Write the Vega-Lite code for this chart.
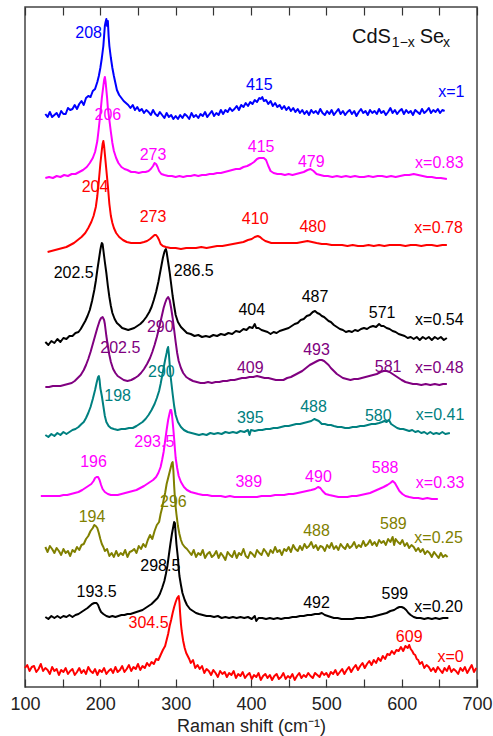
{
"$schema": "https://vega.github.io/schema/vega-lite/v6.json",
"width": 452, "height": 680,
"autosize": {"type": "none"},
"padding": {"left": 25, "top": 7, "right": 16, "bottom": 49},
"background": "white",
"config": {"view": {"stroke": "#444", "strokeWidth": 1.5}, "font": "Liberation Sans"},
"datasets": {
"spec": [
{"s":"a","x":127,"y":572},{"s":"a","x":130,"y":569},{"s":"a","x":133,"y":574},{"s":"a","x":136,"y":569},{"s":"a","x":139,"y":571},{"s":"a","x":142,"y":573},{"s":"a","x":145,"y":569},{"s":"a","x":148,"y":575},{"s":"a","x":151,"y":572},{"s":"a","x":154,"y":572},{"s":"a","x":157,"y":578},{"s":"a","x":160,"y":576},{"s":"a","x":163,"y":577},{"s":"a","x":166,"y":581},{"s":"a","x":169,"y":577},{"s":"a","x":172,"y":582},{"s":"a","x":175,"y":585},{"s":"a","x":178,"y":581},{"s":"a","x":181,"y":588},{"s":"a","x":184,"y":590},{"s":"a","x":187,"y":589},{"s":"a","x":190,"y":595},{"s":"a","x":193,"y":597},{"s":"a","x":196,"y":604},{"s":"a","x":198,"y":610},{"s":"a","x":200,"y":618},{"s":"a","x":202,"y":628},{"s":"a","x":204,"y":640},{"s":"a","x":205,"y":650},{"s":"a","x":206,"y":660},{"s":"a","x":207,"y":664},{"s":"a","x":208,"y":667},{"s":"a","x":209,"y":660},{"s":"a","x":210,"y":665},{"s":"a","x":211,"y":650},{"s":"a","x":212,"y":640},{"s":"a","x":214,"y":628},{"s":"a","x":216,"y":618},{"s":"a","x":218,"y":610},{"s":"a","x":220,"y":603},{"s":"a","x":222,"y":596},{"s":"a","x":225,"y":591},{"s":"a","x":228,"y":588},{"s":"a","x":231,"y":585},{"s":"a","x":234,"y":583},{"s":"a","x":237,"y":581},{"s":"a","x":240,"y":578},{"s":"a","x":243,"y":581},{"s":"a","x":246,"y":576},{"s":"a","x":249,"y":579},{"s":"a","x":252,"y":575},{"s":"a","x":255,"y":577},{"s":"a","x":258,"y":573},{"s":"a","x":261,"y":576},{"s":"a","x":264,"y":574},{"s":"a","x":267,"y":571},{"s":"a","x":270,"y":576},{"s":"a","x":273,"y":572},{"s":"a","x":276,"y":570},{"s":"a","x":279,"y":574},{"s":"a","x":282,"y":571},{"s":"a","x":285,"y":568},{"s":"a","x":288,"y":573},{"s":"a","x":291,"y":569},{"s":"a","x":294,"y":571},{"s":"a","x":297,"y":567},{"s":"a","x":300,"y":570},{"s":"a","x":303,"y":567},{"s":"a","x":306,"y":571},{"s":"a","x":309,"y":568},{"s":"a","x":312,"y":572},{"s":"a","x":315,"y":570},{"s":"a","x":318,"y":567},{"s":"a","x":321,"y":573},{"s":"a","x":324,"y":569},{"s":"a","x":327,"y":571},{"s":"a","x":330,"y":568},{"s":"a","x":333,"y":572},{"s":"a","x":336,"y":570},{"s":"a","x":339,"y":574},{"s":"a","x":342,"y":569},{"s":"a","x":345,"y":572},{"s":"a","x":348,"y":575},{"s":"a","x":351,"y":570},{"s":"a","x":354,"y":573},{"s":"a","x":357,"y":571},{"s":"a","x":360,"y":576},{"s":"a","x":363,"y":572},{"s":"a","x":366,"y":576},{"s":"a","x":369,"y":574},{"s":"a","x":372,"y":578},{"s":"a","x":375,"y":575},{"s":"a","x":378,"y":577},{"s":"a","x":381,"y":580},{"s":"a","x":384,"y":576},{"s":"a","x":387,"y":581},{"s":"a","x":390,"y":579},{"s":"a","x":393,"y":583},{"s":"a","x":396,"y":580},{"s":"a","x":399,"y":584},{"s":"a","x":402,"y":582},{"s":"a","x":405,"y":586},{"s":"a","x":408,"y":584},{"s":"a","x":411,"y":588},{"s":"a","x":413,"y":587},{"s":"a","x":415,"y":589},{"s":"a","x":417,"y":585},{"s":"a","x":420,"y":586},{"s":"a","x":423,"y":582},{"s":"a","x":426,"y":585},{"s":"a","x":429,"y":580},{"s":"a","x":432,"y":583},{"s":"a","x":435,"y":579},{"s":"a","x":438,"y":581},{"s":"a","x":441,"y":577},{"s":"a","x":444,"y":580},{"s":"a","x":447,"y":576},{"s":"a","x":450,"y":579},{"s":"a","x":453,"y":575},{"s":"a","x":456,"y":578},{"s":"a","x":459,"y":574},{"s":"a","x":462,"y":577},{"s":"a","x":465,"y":573},{"s":"a","x":468,"y":576},{"s":"a","x":471,"y":572},{"s":"a","x":474,"y":575},{"s":"a","x":477,"y":571},{"s":"a","x":480,"y":576},{"s":"a","x":483,"y":573},{"s":"a","x":486,"y":575},{"s":"a","x":489,"y":572},{"s":"a","x":492,"y":577},{"s":"a","x":495,"y":573},{"s":"a","x":498,"y":571},{"s":"a","x":501,"y":575},{"s":"a","x":504,"y":572},{"s":"a","x":507,"y":576},{"s":"a","x":510,"y":571},{"s":"a","x":513,"y":574},{"s":"a","x":516,"y":577},{"s":"a","x":519,"y":572},{"s":"a","x":522,"y":575},{"s":"a","x":525,"y":571},{"s":"a","x":528,"y":574},{"s":"a","x":531,"y":576},{"s":"a","x":534,"y":572},{"s":"a","x":537,"y":575},{"s":"a","x":540,"y":570},{"s":"a","x":543,"y":574},{"s":"a","x":546,"y":577},{"s":"a","x":549,"y":573},{"s":"a","x":552,"y":575},{"s":"a","x":555,"y":571},{"s":"a","x":558,"y":576},{"s":"a","x":561,"y":573},{"s":"a","x":564,"y":575},{"s":"a","x":567,"y":572},{"s":"a","x":570,"y":577},{"s":"a","x":573,"y":573},{"s":"a","x":576,"y":575},{"s":"a","x":579,"y":571},{"s":"a","x":582,"y":574},{"s":"a","x":585,"y":578},{"s":"a","x":588,"y":573},{"s":"a","x":591,"y":576},{"s":"a","x":594,"y":572},{"s":"a","x":597,"y":575},{"s":"a","x":600,"y":577},{"s":"a","x":603,"y":572},{"s":"a","x":606,"y":576},{"s":"a","x":609,"y":573},{"s":"a","x":612,"y":575},{"s":"a","x":615,"y":571},{"s":"a","x":618,"y":576},{"s":"a","x":621,"y":574},{"s":"a","x":624,"y":572},{"s":"a","x":627,"y":577},{"s":"a","x":630,"y":573},{"s":"a","x":633,"y":575},{"s":"a","x":636,"y":578},{"s":"a","x":639,"y":573},{"s":"a","x":642,"y":576},{"s":"a","x":645,"y":574},{"s":"a","x":648,"y":577},{"s":"a","x":651,"y":573},{"s":"a","x":654,"y":576},{"s":"a","x":657,"y":575},
{"s":"b","x":127,"y":508},{"s":"b","x":132,"y":509},{"s":"b","x":137,"y":508},{"s":"b","x":142,"y":510},{"s":"b","x":147,"y":509},{"s":"b","x":152,"y":511},{"s":"b","x":157,"y":510},{"s":"b","x":162,"y":512},{"s":"b","x":167,"y":512},{"s":"b","x":172,"y":514},{"s":"b","x":177,"y":516},{"s":"b","x":182,"y":519},{"s":"b","x":186,"y":523},{"s":"b","x":190,"y":528},{"s":"b","x":193,"y":534},{"s":"b","x":196,"y":545},{"s":"b","x":198,"y":558},{"s":"b","x":200,"y":572},{"s":"b","x":202,"y":588},{"s":"b","x":204,"y":600},{"s":"b","x":205,"y":606},{"s":"b","x":206,"y":609},{"s":"b","x":207,"y":604},{"s":"b","x":208,"y":596},{"s":"b","x":209,"y":588},{"s":"b","x":210,"y":578},{"s":"b","x":212,"y":566},{"s":"b","x":214,"y":554},{"s":"b","x":216,"y":543},{"s":"b","x":218,"y":535},{"s":"b","x":221,"y":528},{"s":"b","x":224,"y":523},{"s":"b","x":228,"y":519},{"s":"b","x":232,"y":517},{"s":"b","x":236,"y":516},{"s":"b","x":241,"y":514},{"s":"b","x":246,"y":514},{"s":"b","x":251,"y":513},{"s":"b","x":256,"y":514},{"s":"b","x":260,"y":514},{"s":"b","x":264,"y":515},{"s":"b","x":267,"y":517},{"s":"b","x":270,"y":520},{"s":"b","x":272,"y":523},{"s":"b","x":274,"y":522},{"s":"b","x":276,"y":519},{"s":"b","x":278,"y":515},{"s":"b","x":281,"y":512},{"s":"b","x":285,"y":511},{"s":"b","x":290,"y":510},{"s":"b","x":295,"y":510},{"s":"b","x":300,"y":509},{"s":"b","x":305,"y":510},{"s":"b","x":310,"y":509},{"s":"b","x":315,"y":510},{"s":"b","x":320,"y":510},{"s":"b","x":325,"y":511},{"s":"b","x":330,"y":510},{"s":"b","x":335,"y":511},{"s":"b","x":340,"y":511},{"s":"b","x":345,"y":512},{"s":"b","x":350,"y":512},{"s":"b","x":355,"y":513},{"s":"b","x":360,"y":513},{"s":"b","x":365,"y":514},{"s":"b","x":370,"y":515},{"s":"b","x":375,"y":516},{"s":"b","x":380,"y":517},{"s":"b","x":385,"y":517},{"s":"b","x":390,"y":519},{"s":"b","x":395,"y":520},{"s":"b","x":400,"y":522},{"s":"b","x":404,"y":524},{"s":"b","x":408,"y":527},{"s":"b","x":411,"y":528},{"s":"b","x":414,"y":528},{"s":"b","x":417,"y":528},{"s":"b","x":420,"y":526},{"s":"b","x":423,"y":520},{"s":"b","x":426,"y":515},{"s":"b","x":430,"y":513},{"s":"b","x":435,"y":512},{"s":"b","x":440,"y":512},{"s":"b","x":445,"y":511},{"s":"b","x":450,"y":512},{"s":"b","x":455,"y":511},{"s":"b","x":460,"y":512},{"s":"b","x":465,"y":513},{"s":"b","x":470,"y":514},{"s":"b","x":475,"y":516},{"s":"b","x":479,"y":517},{"s":"b","x":483,"y":515},{"s":"b","x":487,"y":512},{"s":"b","x":492,"y":511},{"s":"b","x":497,"y":510},{"s":"b","x":502,"y":510},{"s":"b","x":508,"y":509},{"s":"b","x":514,"y":510},{"s":"b","x":520,"y":509},{"s":"b","x":526,"y":510},{"s":"b","x":532,"y":509},{"s":"b","x":538,"y":510},{"s":"b","x":544,"y":509},{"s":"b","x":550,"y":509},{"s":"b","x":556,"y":510},{"s":"b","x":562,"y":509},{"s":"b","x":568,"y":510},{"s":"b","x":574,"y":510},{"s":"b","x":580,"y":509},{"s":"b","x":586,"y":510},{"s":"b","x":592,"y":509},{"s":"b","x":598,"y":510},{"s":"b","x":604,"y":511},{"s":"b","x":610,"y":511},{"s":"b","x":616,"y":512},{"s":"b","x":622,"y":511},{"s":"b","x":628,"y":510},{"s":"b","x":634,"y":509},{"s":"b","x":640,"y":509},{"s":"b","x":646,"y":508},{"s":"b","x":652,"y":508},{"s":"b","x":660,"y":507},
{"s":"c","x":130,"y":434},{"s":"c","x":135,"y":435},{"s":"c","x":140,"y":436},{"s":"c","x":145,"y":437},{"s":"c","x":150,"y":438},{"s":"c","x":155,"y":439},{"s":"c","x":160,"y":441},{"s":"c","x":165,"y":443},{"s":"c","x":170,"y":446},{"s":"c","x":175,"y":449},{"s":"c","x":180,"y":453},{"s":"c","x":184,"y":458},{"s":"c","x":188,"y":464},{"s":"c","x":191,"y":470},{"s":"c","x":194,"y":479},{"s":"c","x":196,"y":490},{"s":"c","x":198,"y":505},{"s":"c","x":200,"y":522},{"s":"c","x":202,"y":536},{"s":"c","x":203,"y":542},{"s":"c","x":204,"y":545},{"s":"c","x":205,"y":540},{"s":"c","x":206,"y":532},{"s":"c","x":207,"y":524},{"s":"c","x":208,"y":516},{"s":"c","x":210,"y":500},{"s":"c","x":212,"y":482},{"s":"c","x":214,"y":470},{"s":"c","x":216,"y":463},{"s":"c","x":218,"y":458},{"s":"c","x":221,"y":453},{"s":"c","x":225,"y":449},{"s":"c","x":230,"y":446},{"s":"c","x":235,"y":444},{"s":"c","x":241,"y":443},{"s":"c","x":247,"y":443},{"s":"c","x":253,"y":443},{"s":"c","x":258,"y":444},{"s":"c","x":262,"y":445},{"s":"c","x":266,"y":447},{"s":"c","x":269,"y":449},{"s":"c","x":272,"y":451},{"s":"c","x":274,"y":451},{"s":"c","x":276,"y":449},{"s":"c","x":278,"y":446},{"s":"c","x":280,"y":442},{"s":"c","x":283,"y":440},{"s":"c","x":287,"y":439},{"s":"c","x":293,"y":438},{"s":"c","x":300,"y":438},{"s":"c","x":307,"y":437},{"s":"c","x":314,"y":438},{"s":"c","x":320,"y":438},{"s":"c","x":327,"y":438},{"s":"c","x":334,"y":439},{"s":"c","x":341,"y":438},{"s":"c","x":348,"y":439},{"s":"c","x":355,"y":440},{"s":"c","x":362,"y":440},{"s":"c","x":369,"y":441},{"s":"c","x":376,"y":442},{"s":"c","x":383,"y":443},{"s":"c","x":390,"y":444},{"s":"c","x":396,"y":446},{"s":"c","x":401,"y":447},{"s":"c","x":405,"y":449},{"s":"c","x":409,"y":450},{"s":"c","x":412,"y":449},{"s":"c","x":415,"y":447},{"s":"c","x":419,"y":445},{"s":"c","x":423,"y":444},{"s":"c","x":427,"y":443},{"s":"c","x":433,"y":443},{"s":"c","x":440,"y":443},{"s":"c","x":447,"y":443},{"s":"c","x":454,"y":443},{"s":"c","x":461,"y":443},{"s":"c","x":468,"y":444},{"s":"c","x":475,"y":445},{"s":"c","x":481,"y":444},{"s":"c","x":487,"y":443},{"s":"c","x":494,"y":442},{"s":"c","x":500,"y":442},{"s":"c","x":507,"y":441},{"s":"c","x":514,"y":441},{"s":"c","x":521,"y":441},{"s":"c","x":528,"y":440},{"s":"c","x":535,"y":441},{"s":"c","x":542,"y":440},{"s":"c","x":549,"y":440},{"s":"c","x":556,"y":441},{"s":"c","x":563,"y":440},{"s":"c","x":570,"y":441},{"s":"c","x":577,"y":440},{"s":"c","x":584,"y":441},{"s":"c","x":591,"y":441},{"s":"c","x":598,"y":441},{"s":"c","x":605,"y":440},{"s":"c","x":612,"y":441},{"s":"c","x":619,"y":441},{"s":"c","x":626,"y":440},{"s":"c","x":633,"y":441},{"s":"c","x":640,"y":441},{"s":"c","x":647,"y":440},{"s":"c","x":654,"y":441},{"s":"c","x":660,"y":441},
{"s":"d","x":127,"y":344},{"s":"d","x":131,"y":341},{"s":"d","x":135,"y":345},{"s":"d","x":139,"y":343},{"s":"d","x":143,"y":347},{"s":"d","x":147,"y":344},{"s":"d","x":151,"y":348},{"s":"d","x":155,"y":347},{"s":"d","x":159,"y":350},{"s":"d","x":163,"y":350},{"s":"d","x":167,"y":353},{"s":"d","x":171,"y":354},{"s":"d","x":174,"y":357},{"s":"d","x":177,"y":361},{"s":"d","x":180,"y":365},{"s":"d","x":183,"y":370},{"s":"d","x":186,"y":376},{"s":"d","x":189,"y":385},{"s":"d","x":192,"y":396},{"s":"d","x":194,"y":405},{"s":"d","x":196,"y":416},{"s":"d","x":198,"y":426},{"s":"d","x":200,"y":436},{"s":"d","x":201,"y":440},{"s":"d","x":202,"y":443},{"s":"d","x":203,"y":442},{"s":"d","x":204,"y":436},{"s":"d","x":205,"y":430},{"s":"d","x":206,"y":424},{"s":"d","x":208,"y":413},{"s":"d","x":210,"y":400},{"s":"d","x":212,"y":389},{"s":"d","x":214,"y":380},{"s":"d","x":216,"y":373},{"s":"d","x":219,"y":367},{"s":"d","x":222,"y":363},{"s":"d","x":225,"y":361},{"s":"d","x":229,"y":358},{"s":"d","x":233,"y":357},{"s":"d","x":237,"y":356},{"s":"d","x":241,"y":357},{"s":"d","x":245,"y":358},{"s":"d","x":249,"y":360},{"s":"d","x":253,"y":362},{"s":"d","x":257,"y":365},{"s":"d","x":261,"y":369},{"s":"d","x":265,"y":374},{"s":"d","x":268,"y":379},{"s":"d","x":271,"y":386},{"s":"d","x":274,"y":394},{"s":"d","x":277,"y":404},{"s":"d","x":279,"y":412},{"s":"d","x":281,"y":420},{"s":"d","x":283,"y":428},{"s":"d","x":285,"y":434},{"s":"d","x":286,"y":436},{"s":"d","x":287,"y":437},{"s":"d","x":288,"y":434},{"s":"d","x":290,"y":424},{"s":"d","x":292,"y":414},{"s":"d","x":294,"y":402},{"s":"d","x":296,"y":390},{"s":"d","x":298,"y":380},{"s":"d","x":300,"y":371},{"s":"d","x":303,"y":364},{"s":"d","x":307,"y":359},{"s":"d","x":311,"y":356},{"s":"d","x":315,"y":353},{"s":"d","x":320,"y":352},{"s":"d","x":325,"y":350},{"s":"d","x":330,"y":351},{"s":"d","x":335,"y":349},{"s":"d","x":340,"y":350},{"s":"d","x":345,"y":349},{"s":"d","x":350,"y":351},{"s":"d","x":355,"y":350},{"s":"d","x":360,"y":352},{"s":"d","x":365,"y":351},{"s":"d","x":370,"y":353},{"s":"d","x":375,"y":352},{"s":"d","x":380,"y":355},{"s":"d","x":385,"y":354},{"s":"d","x":390,"y":357},{"s":"d","x":394,"y":356},{"s":"d","x":398,"y":359},{"s":"d","x":402,"y":358},{"s":"d","x":405,"y":362},{"s":"d","x":407,"y":358},{"s":"d","x":410,"y":358},{"s":"d","x":414,"y":356},{"s":"d","x":418,"y":355},{"s":"d","x":422,"y":354},{"s":"d","x":426,"y":352},{"s":"d","x":430,"y":354},{"s":"d","x":434,"y":353},{"s":"d","x":438,"y":355},{"s":"d","x":442,"y":356},{"s":"d","x":446,"y":357},{"s":"d","x":450,"y":358},{"s":"d","x":454,"y":360},{"s":"d","x":458,"y":362},{"s":"d","x":462,"y":363},{"s":"d","x":466,"y":366},{"s":"d","x":470,"y":367},{"s":"d","x":474,"y":370},{"s":"d","x":478,"y":371},{"s":"d","x":482,"y":374},{"s":"d","x":485,"y":375},{"s":"d","x":488,"y":373},{"s":"d","x":491,"y":372},{"s":"d","x":494,"y":370},{"s":"d","x":497,"y":369},{"s":"d","x":500,"y":367},{"s":"d","x":503,"y":365},{"s":"d","x":506,"y":364},{"s":"d","x":510,"y":361},{"s":"d","x":514,"y":359},{"s":"d","x":518,"y":357},{"s":"d","x":522,"y":356},{"s":"d","x":526,"y":354},{"s":"d","x":530,"y":355},{"s":"d","x":534,"y":354},{"s":"d","x":538,"y":356},{"s":"d","x":542,"y":355},{"s":"d","x":546,"y":357},{"s":"d","x":550,"y":358},{"s":"d","x":554,"y":357},{"s":"d","x":558,"y":359},{"s":"d","x":562,"y":360},{"s":"d","x":566,"y":359},{"s":"d","x":570,"y":362},{"s":"d","x":573,"y":360},{"s":"d","x":576,"y":360},{"s":"d","x":580,"y":358},{"s":"d","x":584,"y":357},{"s":"d","x":588,"y":355},{"s":"d","x":592,"y":354},{"s":"d","x":596,"y":352},{"s":"d","x":600,"y":351},{"s":"d","x":604,"y":350},{"s":"d","x":608,"y":348},{"s":"d","x":612,"y":349},{"s":"d","x":616,"y":347},{"s":"d","x":620,"y":349},{"s":"d","x":624,"y":346},{"s":"d","x":628,"y":349},{"s":"d","x":632,"y":347},{"s":"d","x":636,"y":349},{"s":"d","x":640,"y":346},{"s":"d","x":644,"y":349},{"s":"d","x":648,"y":347},{"s":"d","x":652,"y":349},{"s":"d","x":656,"y":346},{"s":"d","x":660,"y":348},
{"s":"e","x":127,"y":299},{"s":"e","x":132,"y":299},{"s":"e","x":137,"y":300},{"s":"e","x":142,"y":300},{"s":"e","x":147,"y":300},{"s":"e","x":152,"y":301},{"s":"e","x":157,"y":302},{"s":"e","x":162,"y":303},{"s":"e","x":166,"y":305},{"s":"e","x":170,"y":308},{"s":"e","x":174,"y":311},{"s":"e","x":178,"y":316},{"s":"e","x":181,"y":321},{"s":"e","x":184,"y":327},{"s":"e","x":187,"y":334},{"s":"e","x":190,"y":342},{"s":"e","x":193,"y":350},{"s":"e","x":196,"y":358},{"s":"e","x":199,"y":365},{"s":"e","x":201,"y":368},{"s":"e","x":203,"y":369},{"s":"e","x":205,"y":366},{"s":"e","x":206,"y":362},{"s":"e","x":208,"y":350},{"s":"e","x":210,"y":340},{"s":"e","x":212,"y":331},{"s":"e","x":214,"y":324},{"s":"e","x":217,"y":317},{"s":"e","x":220,"y":313},{"s":"e","x":223,"y":310},{"s":"e","x":227,"y":308},{"s":"e","x":231,"y":306},{"s":"e","x":236,"y":305},{"s":"e","x":241,"y":306},{"s":"e","x":246,"y":308},{"s":"e","x":250,"y":310},{"s":"e","x":254,"y":313},{"s":"e","x":258,"y":317},{"s":"e","x":262,"y":322},{"s":"e","x":266,"y":328},{"s":"e","x":269,"y":334},{"s":"e","x":272,"y":341},{"s":"e","x":275,"y":349},{"s":"e","x":278,"y":358},{"s":"e","x":281,"y":368},{"s":"e","x":284,"y":378},{"s":"e","x":286,"y":383},{"s":"e","x":288,"y":387},{"s":"e","x":290,"y":389},{"s":"e","x":292,"y":386},{"s":"e","x":294,"y":378},{"s":"e","x":296,"y":368},{"s":"e","x":298,"y":356},{"s":"e","x":300,"y":344},{"s":"e","x":302,"y":333},{"s":"e","x":304,"y":325},{"s":"e","x":307,"y":318},{"s":"e","x":310,"y":313},{"s":"e","x":314,"y":309},{"s":"e","x":318,"y":307},{"s":"e","x":323,"y":305},{"s":"e","x":328,"y":304},{"s":"e","x":333,"y":303},{"s":"e","x":338,"y":303},{"s":"e","x":343,"y":304},{"s":"e","x":348,"y":303},{"s":"e","x":353,"y":304},{"s":"e","x":358,"y":304},{"s":"e","x":363,"y":305},{"s":"e","x":368,"y":305},{"s":"e","x":373,"y":306},{"s":"e","x":378,"y":306},{"s":"e","x":383,"y":307},{"s":"e","x":388,"y":308},{"s":"e","x":393,"y":308},{"s":"e","x":398,"y":309},{"s":"e","x":403,"y":309},{"s":"e","x":408,"y":310},{"s":"e","x":413,"y":309},{"s":"e","x":418,"y":308},{"s":"e","x":423,"y":308},{"s":"e","x":428,"y":307},{"s":"e","x":433,"y":306},{"s":"e","x":438,"y":306},{"s":"e","x":443,"y":306},{"s":"e","x":448,"y":308},{"s":"e","x":453,"y":309},{"s":"e","x":458,"y":311},{"s":"e","x":463,"y":313},{"s":"e","x":468,"y":315},{"s":"e","x":473,"y":318},{"s":"e","x":478,"y":321},{"s":"e","x":483,"y":323},{"s":"e","x":488,"y":325},{"s":"e","x":491,"y":326},{"s":"e","x":494,"y":326},{"s":"e","x":497,"y":325},{"s":"e","x":500,"y":323},{"s":"e","x":503,"y":321},{"s":"e","x":506,"y":318},{"s":"e","x":510,"y":315},{"s":"e","x":514,"y":312},{"s":"e","x":518,"y":310},{"s":"e","x":522,"y":308},{"s":"e","x":527,"y":307},{"s":"e","x":532,"y":306},{"s":"e","x":537,"y":307},{"s":"e","x":542,"y":307},{"s":"e","x":547,"y":308},{"s":"e","x":552,"y":309},{"s":"e","x":557,"y":310},{"s":"e","x":562,"y":311},{"s":"e","x":567,"y":312},{"s":"e","x":572,"y":314},{"s":"e","x":576,"y":315},{"s":"e","x":580,"y":315},{"s":"e","x":584,"y":314},{"s":"e","x":588,"y":312},{"s":"e","x":592,"y":310},{"s":"e","x":596,"y":308},{"s":"e","x":600,"y":306},{"s":"e","x":605,"y":304},{"s":"e","x":610,"y":303},{"s":"e","x":615,"y":302},{"s":"e","x":620,"y":302},{"s":"e","x":626,"y":301},{"s":"e","x":632,"y":302},{"s":"e","x":638,"y":301},{"s":"e","x":644,"y":302},{"s":"e","x":650,"y":301},{"s":"e","x":655,"y":302},{"s":"e","x":660,"y":302},
{"s":"f","x":127,"y":251},{"s":"f","x":131,"y":249},{"s":"f","x":135,"y":252},{"s":"f","x":139,"y":250},{"s":"f","x":143,"y":253},{"s":"f","x":147,"y":251},{"s":"f","x":151,"y":254},{"s":"f","x":155,"y":252},{"s":"f","x":159,"y":254},{"s":"f","x":163,"y":256},{"s":"f","x":167,"y":257},{"s":"f","x":171,"y":259},{"s":"f","x":175,"y":262},{"s":"f","x":178,"y":264},{"s":"f","x":181,"y":268},{"s":"f","x":184,"y":273},{"s":"f","x":187,"y":279},{"s":"f","x":190,"y":287},{"s":"f","x":193,"y":296},{"s":"f","x":195,"y":303},{"s":"f","x":197,"y":309},{"s":"f","x":198,"y":310},{"s":"f","x":199,"y":306},{"s":"f","x":200,"y":298},{"s":"f","x":202,"y":290},{"s":"f","x":204,"y":280},{"s":"f","x":206,"y":270},{"s":"f","x":208,"y":264},{"s":"f","x":211,"y":260},{"s":"f","x":214,"y":258},{"s":"f","x":218,"y":257},{"s":"f","x":223,"y":256},{"s":"f","x":228,"y":257},{"s":"f","x":233,"y":257},{"s":"f","x":238,"y":258},{"s":"f","x":243,"y":258},{"s":"f","x":248,"y":260},{"s":"f","x":252,"y":262},{"s":"f","x":256,"y":264},{"s":"f","x":260,"y":267},{"s":"f","x":264,"y":271},{"s":"f","x":268,"y":276},{"s":"f","x":272,"y":282},{"s":"f","x":275,"y":288},{"s":"f","x":278,"y":295},{"s":"f","x":280,"y":302},{"s":"f","x":282,"y":310},{"s":"f","x":284,"y":318},{"s":"f","x":286,"y":326},{"s":"f","x":288,"y":333},{"s":"f","x":289,"y":337},{"s":"f","x":290,"y":339},{"s":"f","x":291,"y":332},{"s":"f","x":292,"y":322},{"s":"f","x":293,"y":312},{"s":"f","x":294,"y":305},{"s":"f","x":296,"y":292},{"s":"f","x":298,"y":280},{"s":"f","x":300,"y":271},{"s":"f","x":303,"y":264},{"s":"f","x":307,"y":259},{"s":"f","x":311,"y":256},{"s":"f","x":316,"y":254},{"s":"f","x":321,"y":253},{"s":"f","x":326,"y":252},{"s":"f","x":331,"y":251},{"s":"f","x":336,"y":252},{"s":"f","x":341,"y":251},{"s":"f","x":346,"y":253},{"s":"f","x":351,"y":252},{"s":"f","x":356,"y":253},{"s":"f","x":361,"y":252},{"s":"f","x":366,"y":254},{"s":"f","x":371,"y":253},{"s":"f","x":376,"y":254},{"s":"f","x":381,"y":253},{"s":"f","x":386,"y":255},{"s":"f","x":391,"y":254},{"s":"f","x":396,"y":256},{"s":"f","x":398,"y":251},{"s":"f","x":400,"y":256},{"s":"f","x":405,"y":255},{"s":"f","x":410,"y":256},{"s":"f","x":415,"y":256},{"s":"f","x":420,"y":257},{"s":"f","x":425,"y":257},{"s":"f","x":430,"y":258},{"s":"f","x":435,"y":258},{"s":"f","x":440,"y":259},{"s":"f","x":445,"y":260},{"s":"f","x":450,"y":260},{"s":"f","x":455,"y":261},{"s":"f","x":460,"y":262},{"s":"f","x":465,"y":262},{"s":"f","x":470,"y":263},{"s":"f","x":475,"y":264},{"s":"f","x":480,"y":265},{"s":"f","x":484,"y":267},{"s":"f","x":487,"y":266},{"s":"f","x":490,"y":265},{"s":"f","x":494,"y":262},{"s":"f","x":498,"y":262},{"s":"f","x":502,"y":261},{"s":"f","x":506,"y":261},{"s":"f","x":510,"y":260},{"s":"f","x":515,"y":259},{"s":"f","x":520,"y":259},{"s":"f","x":525,"y":258},{"s":"f","x":530,"y":258},{"s":"f","x":535,"y":259},{"s":"f","x":540,"y":259},{"s":"f","x":545,"y":260},{"s":"f","x":550,"y":260},{"s":"f","x":555,"y":261},{"s":"f","x":560,"y":262},{"s":"f","x":565,"y":262},{"s":"f","x":570,"y":263},{"s":"f","x":574,"y":264},{"s":"f","x":577,"y":265},{"s":"f","x":580,"y":264},{"s":"f","x":583,"y":266},{"s":"f","x":586,"y":262},{"s":"f","x":590,"y":260},{"s":"f","x":594,"y":258},{"s":"f","x":598,"y":257},{"s":"f","x":602,"y":257},{"s":"f","x":606,"y":256},{"s":"f","x":610,"y":255},{"s":"f","x":614,"y":256},{"s":"f","x":618,"y":254},{"s":"f","x":622,"y":255},{"s":"f","x":626,"y":253},{"s":"f","x":630,"y":254},{"s":"f","x":634,"y":252},{"s":"f","x":638,"y":254},{"s":"f","x":642,"y":252},{"s":"f","x":646,"y":253},{"s":"f","x":650,"y":252},{"s":"f","x":654,"y":254},{"s":"f","x":658,"y":252},{"s":"f","x":664,"y":253},
{"s":"g","x":121,"y":190},{"s":"g","x":126,"y":190},{"s":"g","x":131,"y":190},{"s":"g","x":136,"y":190},{"s":"g","x":141,"y":190},{"s":"g","x":146,"y":190},{"s":"g","x":151,"y":191},{"s":"g","x":156,"y":191},{"s":"g","x":161,"y":192},{"s":"g","x":166,"y":193},{"s":"g","x":171,"y":194},{"s":"g","x":176,"y":196},{"s":"g","x":180,"y":198},{"s":"g","x":184,"y":200},{"s":"g","x":188,"y":202},{"s":"g","x":191,"y":205},{"s":"g","x":193,"y":208},{"s":"g","x":195,"y":209},{"s":"g","x":197,"y":209},{"s":"g","x":199,"y":206},{"s":"g","x":201,"y":201},{"s":"g","x":203,"y":197},{"s":"g","x":206,"y":194},{"s":"g","x":210,"y":192},{"s":"g","x":214,"y":191},{"s":"g","x":218,"y":191},{"s":"g","x":223,"y":191},{"s":"g","x":228,"y":192},{"s":"g","x":233,"y":193},{"s":"g","x":238,"y":194},{"s":"g","x":243,"y":195},{"s":"g","x":248,"y":196},{"s":"g","x":253,"y":198},{"s":"g","x":258,"y":200},{"s":"g","x":262,"y":202},{"s":"g","x":266,"y":204},{"s":"g","x":270,"y":206},{"s":"g","x":274,"y":209},{"s":"g","x":277,"y":213},{"s":"g","x":280,"y":219},{"s":"g","x":282,"y":226},{"s":"g","x":284,"y":234},{"s":"g","x":286,"y":245},{"s":"g","x":288,"y":256},{"s":"g","x":290,"y":266},{"s":"g","x":292,"y":273},{"s":"g","x":293,"y":276},{"s":"g","x":294,"y":276},{"s":"g","x":295,"y":272},{"s":"g","x":296,"y":264},{"s":"g","x":297,"y":256},{"s":"g","x":298,"y":247},{"s":"g","x":299,"y":237},{"s":"g","x":300,"y":228},{"s":"g","x":302,"y":218},{"s":"g","x":304,"y":210},{"s":"g","x":307,"y":204},{"s":"g","x":311,"y":199},{"s":"g","x":315,"y":196},{"s":"g","x":320,"y":194},{"s":"g","x":325,"y":193},{"s":"g","x":330,"y":192},{"s":"g","x":336,"y":191},{"s":"g","x":342,"y":191},{"s":"g","x":348,"y":190},{"s":"g","x":354,"y":190},{"s":"g","x":360,"y":190},{"s":"g","x":366,"y":189},{"s":"g","x":372,"y":190},{"s":"g","x":378,"y":189},{"s":"g","x":384,"y":189},{"s":"g","x":390,"y":189},{"s":"g","x":396,"y":189},{"s":"g","x":402,"y":189},{"s":"g","x":408,"y":189},{"s":"g","x":414,"y":190},{"s":"g","x":420,"y":190},{"s":"g","x":426,"y":190},{"s":"g","x":432,"y":191},{"s":"g","x":438,"y":191},{"s":"g","x":444,"y":191},{"s":"g","x":450,"y":192},{"s":"g","x":456,"y":192},{"s":"g","x":462,"y":193},{"s":"g","x":468,"y":194},{"s":"g","x":474,"y":195},{"s":"g","x":480,"y":196},{"s":"g","x":485,"y":197},{"s":"g","x":489,"y":199},{"s":"g","x":492,"y":198},{"s":"g","x":495,"y":195},{"s":"g","x":499,"y":192},{"s":"g","x":504,"y":191},{"s":"g","x":510,"y":190},{"s":"g","x":516,"y":189},{"s":"g","x":522,"y":189},{"s":"g","x":528,"y":189},{"s":"g","x":534,"y":190},{"s":"g","x":540,"y":190},{"s":"g","x":546,"y":191},{"s":"g","x":552,"y":192},{"s":"g","x":558,"y":193},{"s":"g","x":564,"y":195},{"s":"g","x":570,"y":197},{"s":"g","x":576,"y":199},{"s":"g","x":581,"y":201},{"s":"g","x":585,"y":203},{"s":"g","x":588,"y":205},{"s":"g","x":591,"y":203},{"s":"g","x":594,"y":199},{"s":"g","x":597,"y":195},{"s":"g","x":601,"y":192},{"s":"g","x":605,"y":190},{"s":"g","x":610,"y":189},{"s":"g","x":616,"y":188},{"s":"g","x":622,"y":188},{"s":"g","x":628,"y":187},{"s":"g","x":634,"y":188},{"s":"g","x":640,"y":187},{"s":"g","x":648,"y":187},
{"s":"h","x":127,"y":139},{"s":"h","x":130,"y":134},{"s":"h","x":133,"y":140},{"s":"h","x":136,"y":137},{"s":"h","x":139,"y":133},{"s":"h","x":142,"y":138},{"s":"h","x":145,"y":135},{"s":"h","x":148,"y":131},{"s":"h","x":151,"y":137},{"s":"h","x":154,"y":133},{"s":"h","x":157,"y":135},{"s":"h","x":160,"y":130},{"s":"h","x":163,"y":136},{"s":"h","x":166,"y":134},{"s":"h","x":169,"y":139},{"s":"h","x":172,"y":136},{"s":"h","x":175,"y":141},{"s":"h","x":178,"y":142},{"s":"h","x":181,"y":147},{"s":"h","x":184,"y":150},{"s":"h","x":187,"y":155},{"s":"h","x":190,"y":158},{"s":"h","x":192,"y":161},{"s":"h","x":194,"y":160},{"s":"h","x":196,"y":158},{"s":"h","x":198,"y":153},{"s":"h","x":200,"y":147},{"s":"h","x":202,"y":142},{"s":"h","x":204,"y":139},{"s":"h","x":206,"y":135},{"s":"h","x":209,"y":137},{"s":"h","x":212,"y":130},{"s":"h","x":215,"y":133},{"s":"h","x":218,"y":129},{"s":"h","x":221,"y":135},{"s":"h","x":224,"y":130},{"s":"h","x":227,"y":133},{"s":"h","x":230,"y":131},{"s":"h","x":233,"y":136},{"s":"h","x":236,"y":129},{"s":"h","x":239,"y":134},{"s":"h","x":242,"y":135},{"s":"h","x":245,"y":137},{"s":"h","x":248,"y":133},{"s":"h","x":251,"y":140},{"s":"h","x":254,"y":137},{"s":"h","x":257,"y":142},{"s":"h","x":260,"y":139},{"s":"h","x":263,"y":146},{"s":"h","x":266,"y":151},{"s":"h","x":269,"y":147},{"s":"h","x":272,"y":155},{"s":"h","x":275,"y":161},{"s":"h","x":278,"y":164},{"s":"h","x":280,"y":172},{"s":"h","x":282,"y":178},{"s":"h","x":284,"y":186},{"s":"h","x":286,"y":193},{"s":"h","x":288,"y":202},{"s":"h","x":290,"y":208},{"s":"h","x":292,"y":214},{"s":"h","x":294,"y":220},{"s":"h","x":295,"y":223},{"s":"h","x":296,"y":224},{"s":"h","x":297,"y":215},{"s":"h","x":298,"y":200},{"s":"h","x":299,"y":188},{"s":"h","x":300,"y":179},{"s":"h","x":301,"y":172},{"s":"h","x":302,"y":166},{"s":"h","x":303,"y":160},{"s":"h","x":305,"y":152},{"s":"h","x":307,"y":146},{"s":"h","x":309,"y":142},{"s":"h","x":312,"y":139},{"s":"h","x":315,"y":137},{"s":"h","x":318,"y":134},{"s":"h","x":321,"y":131},{"s":"h","x":324,"y":136},{"s":"h","x":327,"y":129},{"s":"h","x":330,"y":133},{"s":"h","x":333,"y":131},{"s":"h","x":336,"y":136},{"s":"h","x":339,"y":128},{"s":"h","x":342,"y":132},{"s":"h","x":345,"y":134},{"s":"h","x":348,"y":129},{"s":"h","x":351,"y":131},{"s":"h","x":354,"y":135},{"s":"h","x":357,"y":128},{"s":"h","x":360,"y":133},{"s":"h","x":363,"y":130},{"s":"h","x":366,"y":126},{"s":"h","x":369,"y":134},{"s":"h","x":372,"y":131},{"s":"h","x":375,"y":129},{"s":"h","x":378,"y":135},{"s":"h","x":381,"y":128},{"s":"h","x":384,"y":133},{"s":"h","x":387,"y":131},{"s":"h","x":390,"y":137},{"s":"h","x":393,"y":130},{"s":"h","x":396,"y":128},{"s":"h","x":399,"y":134},{"s":"h","x":402,"y":132},{"s":"h","x":405,"y":129},{"s":"h","x":408,"y":136},{"s":"h","x":411,"y":133},{"s":"h","x":414,"y":131},{"s":"h","x":417,"y":137},{"s":"h","x":420,"y":134},{"s":"h","x":423,"y":130},{"s":"h","x":426,"y":136},{"s":"h","x":429,"y":133},{"s":"h","x":432,"y":139},{"s":"h","x":435,"y":134},{"s":"h","x":438,"y":136},{"s":"h","x":441,"y":131},{"s":"h","x":444,"y":137},{"s":"h","x":447,"y":135},{"s":"h","x":450,"y":139},{"s":"h","x":453,"y":134},{"s":"h","x":456,"y":141},{"s":"h","x":459,"y":137},{"s":"h","x":462,"y":135},{"s":"h","x":465,"y":140},{"s":"h","x":468,"y":136},{"s":"h","x":471,"y":142},{"s":"h","x":474,"y":138},{"s":"h","x":477,"y":140},{"s":"h","x":480,"y":144},{"s":"h","x":483,"y":138},{"s":"h","x":486,"y":141},{"s":"h","x":489,"y":136},{"s":"h","x":492,"y":140},{"s":"h","x":495,"y":139},{"s":"h","x":498,"y":135},{"s":"h","x":501,"y":141},{"s":"h","x":504,"y":138},{"s":"h","x":507,"y":143},{"s":"h","x":510,"y":137},{"s":"h","x":513,"y":140},{"s":"h","x":516,"y":136},{"s":"h","x":519,"y":142},{"s":"h","x":522,"y":139},{"s":"h","x":525,"y":137},{"s":"h","x":528,"y":142},{"s":"h","x":531,"y":138},{"s":"h","x":534,"y":140},{"s":"h","x":537,"y":144},{"s":"h","x":540,"y":138},{"s":"h","x":543,"y":141},{"s":"h","x":546,"y":139},{"s":"h","x":549,"y":145},{"s":"h","x":552,"y":140},{"s":"h","x":555,"y":142},{"s":"h","x":558,"y":146},{"s":"h","x":561,"y":141},{"s":"h","x":564,"y":144},{"s":"h","x":567,"y":140},{"s":"h","x":570,"y":146},{"s":"h","x":573,"y":143},{"s":"h","x":576,"y":145},{"s":"h","x":579,"y":141},{"s":"h","x":582,"y":147},{"s":"h","x":585,"y":144},{"s":"h","x":588,"y":149},{"s":"h","x":590,"y":141},{"s":"h","x":592,"y":147},{"s":"h","x":595,"y":144},{"s":"h","x":598,"y":142},{"s":"h","x":601,"y":146},{"s":"h","x":604,"y":140},{"s":"h","x":607,"y":143},{"s":"h","x":610,"y":138},{"s":"h","x":613,"y":141},{"s":"h","x":616,"y":139},{"s":"h","x":619,"y":135},{"s":"h","x":622,"y":138},{"s":"h","x":625,"y":134},{"s":"h","x":628,"y":137},{"s":"h","x":631,"y":132},{"s":"h","x":634,"y":135},{"s":"h","x":637,"y":133},{"s":"h","x":640,"y":129},{"s":"h","x":643,"y":134},{"s":"h","x":646,"y":131},{"s":"h","x":649,"y":128},{"s":"h","x":652,"y":133},{"s":"h","x":655,"y":129},{"s":"h","x":658,"y":131},{"s":"h","x":661,"y":129},
{"s":"i","x":127,"y":69},{"s":"i","x":131,"y":67},{"s":"i","x":135,"y":70},{"s":"i","x":139,"y":68},{"s":"i","x":143,"y":70},{"s":"i","x":147,"y":68},{"s":"i","x":151,"y":70},{"s":"i","x":155,"y":69},{"s":"i","x":159,"y":71},{"s":"i","x":163,"y":69},{"s":"i","x":167,"y":71},{"s":"i","x":171,"y":72},{"s":"i","x":175,"y":74},{"s":"i","x":179,"y":76},{"s":"i","x":183,"y":78},{"s":"i","x":186,"y":80},{"s":"i","x":189,"y":82},{"s":"i","x":192,"y":83},{"s":"i","x":195,"y":83},{"s":"i","x":197,"y":81},{"s":"i","x":199,"y":77},{"s":"i","x":201,"y":74},{"s":"i","x":204,"y":72},{"s":"i","x":208,"y":70},{"s":"i","x":212,"y":69},{"s":"i","x":216,"y":70},{"s":"i","x":220,"y":69},{"s":"i","x":224,"y":70},{"s":"i","x":228,"y":71},{"s":"i","x":232,"y":71},{"s":"i","x":236,"y":72},{"s":"i","x":240,"y":72},{"s":"i","x":244,"y":73},{"s":"i","x":248,"y":74},{"s":"i","x":252,"y":75},{"s":"i","x":256,"y":76},{"s":"i","x":260,"y":78},{"s":"i","x":264,"y":80},{"s":"i","x":268,"y":82},{"s":"i","x":272,"y":85},{"s":"i","x":276,"y":88},{"s":"i","x":279,"y":92},{"s":"i","x":282,"y":98},{"s":"i","x":285,"y":105},{"s":"i","x":287,"y":112},{"s":"i","x":289,"y":120},{"s":"i","x":291,"y":131},{"s":"i","x":293,"y":142},{"s":"i","x":295,"y":152},{"s":"i","x":297,"y":160},{"s":"i","x":298,"y":164},{"s":"i","x":299,"y":163},{"s":"i","x":300,"y":152},{"s":"i","x":301,"y":142},{"s":"i","x":302,"y":135},{"s":"i","x":303,"y":128},{"s":"i","x":304,"y":118},{"s":"i","x":305,"y":110},{"s":"i","x":307,"y":101},{"s":"i","x":309,"y":93},{"s":"i","x":312,"y":86},{"s":"i","x":315,"y":81},{"s":"i","x":319,"y":77},{"s":"i","x":323,"y":75},{"s":"i","x":327,"y":73},{"s":"i","x":331,"y":72},{"s":"i","x":336,"y":71},{"s":"i","x":341,"y":70},{"s":"i","x":346,"y":70},{"s":"i","x":351,"y":69},{"s":"i","x":356,"y":70},{"s":"i","x":361,"y":68},{"s":"i","x":366,"y":69},{"s":"i","x":371,"y":68},{"s":"i","x":376,"y":69},{"s":"i","x":381,"y":68},{"s":"i","x":386,"y":69},{"s":"i","x":391,"y":68},{"s":"i","x":396,"y":69},{"s":"i","x":401,"y":67},{"s":"i","x":405,"y":70},{"s":"i","x":407,"y":65},{"s":"i","x":410,"y":68},{"s":"i","x":415,"y":68},{"s":"i","x":420,"y":67},{"s":"i","x":425,"y":68},{"s":"i","x":430,"y":67},{"s":"i","x":435,"y":68},{"s":"i","x":440,"y":67},{"s":"i","x":445,"y":68},{"s":"i","x":450,"y":68},{"s":"i","x":455,"y":69},{"s":"i","x":460,"y":69},{"s":"i","x":465,"y":70},{"s":"i","x":470,"y":70},{"s":"i","x":475,"y":71},{"s":"i","x":480,"y":71},{"s":"i","x":485,"y":72},{"s":"i","x":490,"y":72},{"s":"i","x":494,"y":73},{"s":"i","x":498,"y":71},{"s":"i","x":502,"y":70},{"s":"i","x":506,"y":69},{"s":"i","x":510,"y":68},{"s":"i","x":515,"y":68},{"s":"i","x":520,"y":67},{"s":"i","x":525,"y":67},{"s":"i","x":530,"y":67},{"s":"i","x":535,"y":67},{"s":"i","x":540,"y":68},{"s":"i","x":545,"y":68},{"s":"i","x":550,"y":68},{"s":"i","x":555,"y":69},{"s":"i","x":560,"y":69},{"s":"i","x":565,"y":70},{"s":"i","x":570,"y":71},{"s":"i","x":575,"y":72},{"s":"i","x":580,"y":73},{"s":"i","x":585,"y":75},{"s":"i","x":590,"y":76},{"s":"i","x":594,"y":78},{"s":"i","x":597,"y":79},{"s":"i","x":600,"y":79},{"s":"i","x":603,"y":78},{"s":"i","x":606,"y":76},{"s":"i","x":609,"y":73},{"s":"i","x":612,"y":71},{"s":"i","x":616,"y":69},{"s":"i","x":620,"y":68},{"s":"i","x":625,"y":68},{"s":"i","x":630,"y":67},{"s":"i","x":635,"y":68},{"s":"i","x":640,"y":67},{"s":"i","x":645,"y":68},{"s":"i","x":650,"y":67},{"s":"i","x":655,"y":68},{"s":"i","x":662,"y":68},
{"s":"j","x":100,"y":18},{"s":"j","x":103,"y":21},{"s":"j","x":106,"y":15},{"s":"j","x":109,"y":19},{"s":"j","x":112,"y":20},{"s":"j","x":115,"y":14},{"s":"j","x":118,"y":17},{"s":"j","x":121,"y":22},{"s":"j","x":124,"y":15},{"s":"j","x":127,"y":18},{"s":"j","x":130,"y":16},{"s":"j","x":133,"y":12},{"s":"j","x":136,"y":19},{"s":"j","x":139,"y":15},{"s":"j","x":142,"y":17},{"s":"j","x":145,"y":11},{"s":"j","x":148,"y":16},{"s":"j","x":151,"y":14},{"s":"j","x":154,"y":18},{"s":"j","x":157,"y":12},{"s":"j","x":160,"y":15},{"s":"j","x":163,"y":17},{"s":"j","x":166,"y":11},{"s":"j","x":169,"y":14},{"s":"j","x":172,"y":18},{"s":"j","x":175,"y":13},{"s":"j","x":178,"y":16},{"s":"j","x":181,"y":12},{"s":"j","x":184,"y":19},{"s":"j","x":187,"y":15},{"s":"j","x":190,"y":13},{"s":"j","x":193,"y":17},{"s":"j","x":196,"y":11},{"s":"j","x":199,"y":16},{"s":"j","x":202,"y":14},{"s":"j","x":205,"y":18},{"s":"j","x":208,"y":12},{"s":"j","x":211,"y":15},{"s":"j","x":214,"y":17},{"s":"j","x":217,"y":13},{"s":"j","x":220,"y":19},{"s":"j","x":223,"y":14},{"s":"j","x":226,"y":16},{"s":"j","x":229,"y":20},{"s":"j","x":232,"y":14},{"s":"j","x":235,"y":17},{"s":"j","x":238,"y":21},{"s":"j","x":241,"y":15},{"s":"j","x":244,"y":19},{"s":"j","x":247,"y":17},{"s":"j","x":250,"y":22},{"s":"j","x":253,"y":16},{"s":"j","x":256,"y":20},{"s":"j","x":259,"y":18},{"s":"j","x":262,"y":23},{"s":"j","x":265,"y":20},{"s":"j","x":268,"y":24},{"s":"j","x":271,"y":22},{"s":"j","x":274,"y":27},{"s":"j","x":277,"y":26},{"s":"j","x":280,"y":31},{"s":"j","x":283,"y":36},{"s":"j","x":286,"y":40},{"s":"j","x":288,"y":46},{"s":"j","x":290,"y":52},{"s":"j","x":292,"y":60},{"s":"j","x":294,"y":66},{"s":"j","x":296,"y":73},{"s":"j","x":298,"y":79},{"s":"j","x":300,"y":84},{"s":"j","x":302,"y":88},{"s":"j","x":304,"y":90},{"s":"j","x":305,"y":84},{"s":"j","x":306,"y":72},{"s":"j","x":307,"y":62},{"s":"j","x":308,"y":55},{"s":"j","x":310,"y":45},{"s":"j","x":312,"y":38},{"s":"j","x":314,"y":33},{"s":"j","x":316,"y":30},{"s":"j","x":318,"y":27},{"s":"j","x":320,"y":23},{"s":"j","x":323,"y":26},{"s":"j","x":326,"y":18},{"s":"j","x":329,"y":21},{"s":"j","x":332,"y":17},{"s":"j","x":335,"y":20},{"s":"j","x":338,"y":13},{"s":"j","x":341,"y":17},{"s":"j","x":344,"y":15},{"s":"j","x":347,"y":11},{"s":"j","x":350,"y":16},{"s":"j","x":353,"y":13},{"s":"j","x":356,"y":9},{"s":"j","x":359,"y":15},{"s":"j","x":362,"y":12},{"s":"j","x":365,"y":14},{"s":"j","x":368,"y":9},{"s":"j","x":371,"y":13},{"s":"j","x":374,"y":11},{"s":"j","x":377,"y":15},{"s":"j","x":380,"y":8},{"s":"j","x":383,"y":12},{"s":"j","x":386,"y":10},{"s":"j","x":389,"y":14},{"s":"j","x":392,"y":8},{"s":"j","x":395,"y":11},{"s":"j","x":398,"y":13},{"s":"j","x":401,"y":7},{"s":"j","x":404,"y":11},{"s":"j","x":407,"y":9},{"s":"j","x":410,"y":13},{"s":"j","x":413,"y":6},{"s":"j","x":416,"y":10},{"s":"j","x":419,"y":12},{"s":"j","x":422,"y":8},{"s":"j","x":425,"y":11},{"s":"j","x":428,"y":6},{"s":"j","x":431,"y":10},{"s":"j","x":434,"y":12},{"s":"j","x":437,"y":7},{"s":"j","x":440,"y":9},{"s":"j","x":443,"y":13},{"s":"j","x":446,"y":7},{"s":"j","x":449,"y":10},{"s":"j","x":452,"y":8},{"s":"j","x":455,"y":12},{"s":"j","x":458,"y":6},{"s":"j","x":461,"y":10},{"s":"j","x":464,"y":13},{"s":"j","x":467,"y":8},{"s":"j","x":470,"y":11},{"s":"j","x":473,"y":9},{"s":"j","x":476,"y":13},{"s":"j","x":479,"y":10},{"s":"j","x":482,"y":8},{"s":"j","x":485,"y":13},{"s":"j","x":488,"y":11},{"s":"j","x":491,"y":9},{"s":"j","x":494,"y":14},{"s":"j","x":497,"y":11},{"s":"j","x":500,"y":13},{"s":"j","x":503,"y":9},{"s":"j","x":506,"y":14},{"s":"j","x":509,"y":12},{"s":"j","x":512,"y":16},{"s":"j","x":515,"y":11},{"s":"j","x":518,"y":14},{"s":"j","x":521,"y":17},{"s":"j","x":524,"y":12},{"s":"j","x":527,"y":16},{"s":"j","x":530,"y":19},{"s":"j","x":533,"y":14},{"s":"j","x":536,"y":18},{"s":"j","x":539,"y":21},{"s":"j","x":542,"y":16},{"s":"j","x":545,"y":20},{"s":"j","x":548,"y":23},{"s":"j","x":551,"y":18},{"s":"j","x":554,"y":22},{"s":"j","x":557,"y":25},{"s":"j","x":560,"y":21},{"s":"j","x":563,"y":26},{"s":"j","x":566,"y":23},{"s":"j","x":569,"y":28},{"s":"j","x":572,"y":25},{"s":"j","x":575,"y":30},{"s":"j","x":578,"y":27},{"s":"j","x":581,"y":32},{"s":"j","x":584,"y":31},{"s":"j","x":587,"y":35},{"s":"j","x":590,"y":32},{"s":"j","x":593,"y":36},{"s":"j","x":596,"y":35},{"s":"j","x":599,"y":39},{"s":"j","x":602,"y":35},{"s":"j","x":605,"y":40},{"s":"j","x":608,"y":38},{"s":"j","x":610,"y":41},{"s":"j","x":612,"y":37},{"s":"j","x":614,"y":35},{"s":"j","x":616,"y":32},{"s":"j","x":618,"y":31},{"s":"j","x":620,"y":27},{"s":"j","x":622,"y":26},{"s":"j","x":624,"y":22},{"s":"j","x":627,"y":24},{"s":"j","x":630,"y":18},{"s":"j","x":633,"y":21},{"s":"j","x":636,"y":19},{"s":"j","x":639,"y":15},{"s":"j","x":642,"y":18},{"s":"j","x":645,"y":14},{"s":"j","x":648,"y":19},{"s":"j","x":651,"y":16},{"s":"j","x":654,"y":13},{"s":"j","x":657,"y":18},{"s":"j","x":660,"y":15},{"s":"j","x":663,"y":20},{"s":"j","x":666,"y":14},{"s":"j","x":669,"y":17},{"s":"j","x":672,"y":15},{"s":"j","x":675,"y":12},{"s":"j","x":678,"y":18},{"s":"j","x":681,"y":15},{"s":"j","x":684,"y":19},{"s":"j","x":687,"y":13},{"s":"j","x":690,"y":17},{"s":"j","x":693,"y":21},{"s":"j","x":696,"y":14},{"s":"j","x":699,"y":18}
],
"lab": [
{"s":"a","t":"208","x":184.5,"y":653},{"s":"a","t":"415","x":411,"y":601},{"s":"a","t":"x=1","x":666,"y":594},
{"s":"b","t":"206","x":210,"y":571},{"s":"b","t":"273","x":270,"y":531},{"s":"b","t":"415","x":413.5,"y":539},{"s":"b","t":"479","x":480,"y":524},{"s":"b","t":"x=0.83","x":650,"y":523},
{"s":"c","t":"204","x":193,"y":499},{"s":"c","t":"273","x":270,"y":469},{"s":"c","t":"410","x":405.6,"y":467},{"s":"c","t":"480","x":482,"y":459},{"s":"c","t":"x=0.78","x":649,"y":458},
{"s":"d","t":"202.5","x":164.6,"y":413},{"s":"d","t":"286.5","x":324,"y":415},{"s":"d","t":"404","x":401,"y":376},{"s":"d","t":"487","x":485,"y":389},{"s":"d","t":"571","x":574,"y":373},{"s":"d","t":"x=0.54","x":650,"y":366},
{"s":"e","t":"202.5","x":226.5,"y":338},{"s":"e","t":"290","x":279.6,"y":359},{"s":"e","t":"409","x":399,"y":318},{"s":"e","t":"493","x":487,"y":336},{"s":"e","t":"581","x":582,"y":319},{"s":"e","t":"x=0.48","x":650,"y":318},
{"s":"f","t":"198","x":223,"y":290},{"s":"f","t":"290","x":281,"y":314},{"s":"f","t":"395","x":399,"y":268},{"s":"f","t":"488","x":483,"y":279},{"s":"f","t":"580","x":569,"y":270},{"s":"f","t":"x=0.41","x":651,"y":271},
{"s":"g","t":"196","x":191,"y":224},{"s":"g","t":"293.5","x":271.6,"y":244},{"s":"g","t":"389","x":397,"y":204},{"s":"g","t":"490","x":489.5,"y":209},{"s":"g","t":"588","x":578,"y":218},{"s":"g","t":"x=0.33","x":651,"y":203},
{"s":"h","t":"194","x":189,"y":169},{"s":"h","t":"296","x":297,"y":184},{"s":"h","t":"488","x":487,"y":155},{"s":"h","t":"589","x":589,"y":162},{"s":"h","t":"x=0.25","x":649,"y":148},
{"s":"i","t":"193.5","x":195,"y":94},{"s":"i","t":"298.5","x":279.6,"y":120},{"s":"i","t":"492","x":487,"y":83},{"s":"i","t":"599","x":591,"y":92},{"s":"i","t":"x=0.20","x":649,"y":79},
{"s":"j","t":"304.5","x":264,"y":63},{"s":"j","t":"609","x":610,"y":49},{"s":"j","t":"x=0","x":665,"y":29}
],
"ttl": [{"t":"CdS","x":534,"y":649},{"t":"Se","x":624,"y":649}],
"sub": [{"t":"1−x","x":587,"y":643},{"t":"x","x":655,"y":643}]
},
"layer": [
{"data": {"name": "spec"},
 "mark": {"type": "line", "strokeWidth": 2, "strokeJoin": "round"},
 "encoding": {
  "x": {"field": "x", "type": "quantitative", "scale": {"domain": [100, 700], "nice": false, "zero": false},
        "axis": {"orient": "bottom", "values": [100,150,200,250,300,350,400,450,500,550,600,650,700],
                 "labelExpr": "datum.value % 100 === 0 ? datum.label : ''",
                 "tickSize": -8, "tickColor": "#333", "tickWidth": 1.2, "labelPadding": 16, "labelOverlap": false, "labelFlush": false,
                 "labelFontSize": 18, "labelColor": "#222", "domain": false, "grid": false,
                 "title": "Raman shift (cm⁻¹)", "titleFontSize": 18, "titleFontWeight": "normal", "titleColor": "#222", "titlePadding": 4}},
  "y": {"field": "y", "type": "quantitative", "scale": {"domain": [-1, 679], "nice": false, "zero": false}, "axis": null},
  "color": {"field": "s", "type": "nominal", "legend": null,
            "scale": {"domain": ["a","b","c","d","e","f","g","h","i","j"],
                      "range": ["#0000ff","#ff00ff","#ff0000","#000000","#800080","#008080","#ff00ff","#808000","#000000","#ff0000"]}}
 }},
{"data": {"name": "lab"},
 "mark": {"type": "text", "fontSize": 16, "align": "center", "baseline": "middle"},
 "encoding": {
  "x": {"field": "x", "type": "quantitative", "axis": null},
  "y": {"field": "y", "type": "quantitative", "axis": null},
  "text": {"field": "t"},
  "color": {"field": "s", "type": "nominal", "legend": null}
 }},
{"data": {"name": "sub"},
 "mark": {"type": "text", "fontSize": 14, "align": "left", "baseline": "middle", "color": "#111"},
 "encoding": {
  "x": {"field": "x", "type": "quantitative", "axis": null},
  "y": {"field": "y", "type": "quantitative", "axis": null},
  "text": {"field": "t"}
 }},
{"data": {"name": "ttl"},
 "mark": {"type": "text", "fontSize": 20, "align": "left", "baseline": "middle", "color": "#111"},
 "encoding": {
  "x": {"field": "x", "type": "quantitative",
        "axis": {"orient": "top", "values": [100,150,200,250,300,350,400,450,500,550,600,650,700], "labels": false,
                 "tickSize": -8, "tickColor": "#333", "tickWidth": 1.2, "domain": false, "grid": false, "title": null}},
  "y": {"field": "y", "type": "quantitative", "axis": null},
  "text": {"field": "t"}
 }}
],
"resolve": {"axis": {"x": "independent"}}
}
